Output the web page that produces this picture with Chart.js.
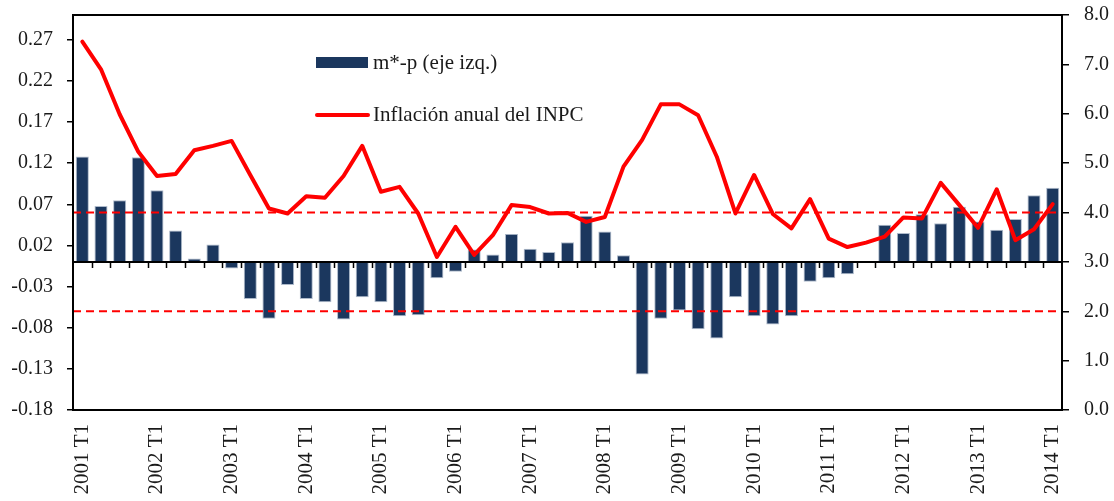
<!DOCTYPE html>
<html>
<head>
<meta charset="utf-8">
<script src="https://cdn.jsdelivr.net/npm/chart.js@4/dist/chart.umd.min.js"></script>
<style>
  html, body { margin: 0; padding: 0; background: #fff; }
  #wrap { width: 1114px; height: 501px; }
</style>
</head>
<body>
<div id="wrap"><canvas id="myChart" width="1114" height="501"></canvas></div>
<script>
'use strict';

// quarters 2001 T1 .. 2014 T1
const years = [2001, 2002, 2003, 2004, 2005, 2006, 2007, 2008, 2009, 2010, 2011, 2012, 2013, 2014];
const categories = [];
years.forEach((yr) => {
    for (let q = 1; q <= 4; q++) {
        if (yr === 2014 && q > 1) break;
        categories.push(yr + ' T' + q);
    }
});

// m*-p (left axis)
const mpValues = [
    0.128, 0.068, 0.075, 0.127,
    0.087, 0.038, 0.004, 0.021,
    -0.008, -0.045, -0.069, -0.028,
    -0.045, -0.049, -0.070, -0.043,
    -0.049, -0.066, -0.065, -0.020,
    -0.012, 0.015, 0.009, 0.034,
    0.016, 0.012, 0.024, 0.056,
    0.037, 0.008, -0.137, -0.069,
    -0.059, -0.082, -0.093, -0.043,
    -0.066, -0.076, -0.066, -0.024,
    -0.020, -0.015, 0.001, 0.045,
    0.035, 0.058, 0.047, 0.067,
    0.049, 0.039, 0.052, 0.081,
    0.090,
];

// inflacion anual del INPC (right axis)
const inflation = [
    7.46, 6.90, 5.99, 5.23,
    4.74, 4.78, 5.26, 5.35,
    5.45, 4.76, 4.08, 3.98,
    4.33, 4.30, 4.74, 5.35,
    4.42, 4.52, 3.98, 3.10,
    3.71, 3.14, 3.54, 4.15,
    4.11, 3.98, 3.99, 3.81,
    3.91, 4.93, 5.47, 6.19,
    6.19, 5.97, 5.13, 3.98,
    4.76, 3.97, 3.68, 4.27,
    3.47, 3.30, 3.39, 3.51,
    3.90, 3.88, 4.60, 4.15,
    3.69, 4.47, 3.44, 3.66,
    4.17,
];

const leftTicks = [-0.18, -0.13, -0.08, -0.03, 0.02, 0.07, 0.12, 0.17, 0.22, 0.27];
const rightTicks = [0, 1, 2, 3, 4, 5, 6, 7, 8];
const targetBand = [2.0, 4.0];

const barColor = '#1b375e';
const lineColor = '#ff0000';
const inkColor = '#1a1a1a';

Chart.defaults.font.family = '"Liberation Serif", "Times New Roman", serif';
Chart.defaults.font.size = 20;
Chart.defaults.color = inkColor;

// zero line of the left axis with small ticks between quarters
const zeroAxis = {
    id: 'zeroAxis',
    afterDatasetsDraw(chart) {
        const { ctx, chartArea } = chart;
        const x = chart.scales.x;
        const y0 = chart.scales.y.getPixelForValue(0);
        ctx.save();
        ctx.strokeStyle = '#000';
        ctx.lineWidth = 1.5;
        ctx.beginPath();
        for (let i = 1; i < categories.length; i++) {
            const xb = Math.round((x.getPixelForValue(i - 1) + x.getPixelForValue(i)) / 2) + 0.5;
            ctx.moveTo(xb, y0);
            ctx.lineTo(xb, y0 + 6);
        }
        ctx.stroke();
        ctx.lineWidth = 2;
        ctx.beginPath();
        ctx.moveTo(chartArea.left, y0);
        ctx.lineTo(chartArea.right, y0);
        ctx.stroke();
        ctx.restore();
    },
};

// dashed inflation target band (right axis)
const targetLines = {
    id: 'targetLines',
    afterDatasetsDraw(chart) {
        const { ctx, chartArea } = chart;
        const y1 = chart.scales.y1;
        ctx.save();
        ctx.strokeStyle = lineColor;
        ctx.lineWidth = 2;
        ctx.setLineDash([8, 5]);
        targetBand.forEach((v) => {
            const py = y1.getPixelForValue(v);
            ctx.beginPath();
            ctx.moveTo(chartArea.left, py);
            ctx.lineTo(chartArea.right, py);
            ctx.stroke();
        });
        ctx.restore();
    },
};

const frame = {
    id: 'frame',
    afterDraw(chart) {
        const { ctx, chartArea } = chart;
        ctx.save();
        ctx.strokeStyle = '#000';
        ctx.lineWidth = 2;
        ctx.strokeRect(chartArea.left, chartArea.top, chartArea.right - chartArea.left, chartArea.bottom - chartArea.top);
        ctx.restore();
    },
};

// legend drawn inside the plot
const innerLegend = {
    id: 'innerLegend',
    afterDraw(chart) {
        const { ctx } = chart;
        const ds = chart.data.datasets;
        ctx.save();
        ctx.font = '21px "Liberation Serif", "Times New Roman", serif';
        ctx.textBaseline = 'middle';

        ctx.fillStyle = barColor;
        ctx.fillRect(316, 57, 52, 11);
        ctx.fillStyle = inkColor;
        ctx.fillText(ds[0].label, 373, 63);

        ctx.strokeStyle = lineColor;
        ctx.lineWidth = 4;
        ctx.lineCap = 'round';
        ctx.beginPath();
        ctx.moveTo(317, 115);
        ctx.lineTo(368, 115);
        ctx.stroke();
        ctx.fillText(ds[1].label, 373, 115);
        ctx.restore();
    },
};

const data = {
    labels: categories,
    datasets: [
        {
            type: 'bar',
            label: 'm*-p (eje izq.)',
            data: mpValues,
            yAxisID: 'y',
            backgroundColor: barColor,
            borderColor: '#aebacb',
            borderWidth: 1,
            barPercentage: 0.7,
            categoryPercentage: 1.0,
            order: 1,
        },
        {
            type: 'line',
            label: 'Inflación anual del INPC',
            data: inflation,
            yAxisID: 'y1',
            borderColor: lineColor,
            backgroundColor: lineColor,
            borderWidth: 4,
            pointRadius: 0,
            tension: 0,
            borderJoinStyle: 'round',
            borderCapStyle: 'round',
            order: 0,
        },
    ],
};

// fixed box sizes so the plot area lands where the original one is
const fixY = (w) => (axis) => {
    axis.width = w;
    axis.paddingTop = 0;
    axis.paddingBottom = 0;
};

const myChart = new Chart(document.getElementById('myChart'), {
    data: data,
    options: {
        responsive: false,
        animation: false,
        layout: {
            padding: { top: 15, left: 0, right: 0, bottom: 0 },
        },
        plugins: {
            legend: { display: false },
            tooltip: { enabled: false },
        },
        scales: {
            x: {
                type: 'category',
                offset: true,
                grid: { display: false, drawTicks: false },
                border: { display: false },
                ticks: {
                    autoSkip: false,
                    minRotation: 90,
                    maxRotation: 90,
                    padding: 14,
                    font: { size: 21 },
                    callback: function (value, index) {
                        const lbl = categories[index];
                        return lbl.endsWith('T1') ? lbl : '';
                    },
                },
                afterFit: (axis) => {
                    axis.height = 91;
                    axis.paddingLeft = 0;
                    axis.paddingRight = 0;
                },
            },
            y: {
                position: 'left',
                min: -0.18,
                max: 0.30,
                afterBuildTicks: (axis) => {
                    axis.ticks = leftTicks.map((v) => ({ value: v }));
                },
                grid: {
                    drawOnChartArea: false,
                    drawTicks: true,
                    tickLength: 6,
                    color: '#000',
                    lineWidth: 1.5,
                },
                border: { display: false },
                ticks: {
                    padding: 14,
                    font: { size: 20 },
                    callback: (v) => v.toFixed(2),
                },
                afterFit: fixY(73),
            },
            y1: {
                position: 'right',
                min: 0,
                max: 8,
                afterBuildTicks: (axis) => {
                    axis.ticks = rightTicks.map((v) => ({ value: v }));
                },
                grid: {
                    drawOnChartArea: false,
                    drawTicks: true,
                    tickLength: 7,
                    color: '#000',
                    lineWidth: 1.5,
                },
                border: { display: false },
                ticks: {
                    padding: 15,
                    font: { size: 20 },
                    callback: (v) => v.toFixed(1),
                },
                afterFit: fixY(52),
            },
        },
    },
    plugins: [zeroAxis, targetLines, frame, innerLegend],
});
</script>
</body>
</html>
